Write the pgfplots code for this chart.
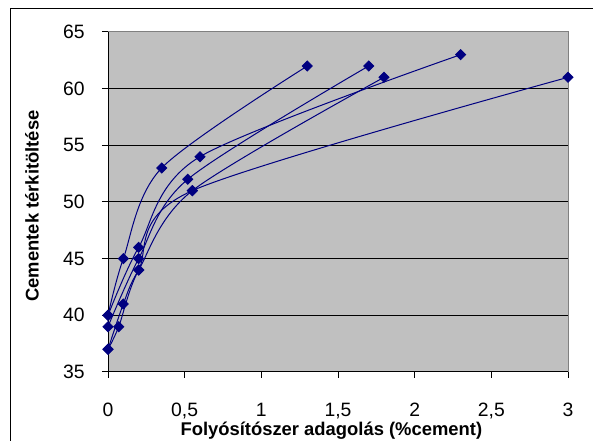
\documentclass[border=0pt]{standalone}
\usepackage{pgfplots}
\pgfplotsset{compat=1.18}
\usepackage{fontspec}
\setmainfont{Liberation Sans}
\definecolor{plotgray}{RGB}{192,192,192}
\definecolor{framegray}{RGB}{128,128,128}
\definecolor{navyline}{RGB}{0,0,128}
\tikzset{ser/.style={navyline, line width=0.75pt, smooth, tension=0.5, mark=square*, mark size=2.6pt, mark options={fill=navyline, draw=navyline, solid, rotate=45}}}
\begin{document}
\begin{tikzpicture}
\path[use as bounding box] (0pt,0pt) rectangle (444.75pt,330.75pt);
\draw[black, line width=0.75pt] (7.5pt,0pt) -- (7.5pt,324pt) -- (444.75pt,324pt);
\begin{axis}[
  at={(81pt,51.75pt)}, anchor=south west,
  scale only axis, width=345pt, height=255pt,
  xmin=0, xmax=3, ymin=35, ymax=65,
  xtick={0,0.5,1,1.5,2,2.5,3},
  ytick={35,40,45,50,55,60,65},
  axis background/.style={fill=plotgray},
  axis line style={framegray, line width=0.75pt},
  ymajorgrids, grid style={black, line width=0.75pt},
  tick align=outside, major tick length=4.5pt,
  xtick pos=bottom, ytick pos=left,
  tick style={black, line width=0.75pt},
  /pgf/number format/use comma,
  /pgf/number format/assume math mode=true,
  ticklabel style={font=\fontsize{14.5}{17}\selectfont},
  yticklabel style={anchor=east, inner sep=0pt, xshift=-12.75pt},
  xticklabel style={anchor=north, inner sep=0pt, yshift=-18.5pt},
  xlabel={Folyósítószer adagolás (\%cement)},
  ylabel={Cementek térkitöltése},
  xlabel style={font=\bfseries\fontsize{13.8}{16}\selectfont, at={(axis description cs:0.5,0)}, anchor=base, inner sep=0pt, yshift=-48pt, xshift=-5pt},
  ylabel style={font=\bfseries\fontsize{13.8}{16}\selectfont, at={(axis description cs:0,0.5)}, anchor=base, inner sep=0pt, yshift=52pt, xshift=-3pt},
  clip=false,
]
\addplot[ser] coordinates {(0,40) (0.1,45) (0.35,53) (1.3,62)};
\addplot[ser] coordinates {(0,40) (0.2,46) (0.6,54) (2.3,63)};
\addplot[ser] coordinates {(0,39) (0.2,45) (0.52,52) (1.7,62)};
\addplot[ser] coordinates {(0,37) (0.1,41) (0.2,44) (0.55,51) (1.8,61)};
\addplot[ser] coordinates {(0,37) (0.07,39) (0.2,44) (0.55,51) (3,61)};
\draw[black, line width=0.75pt] (axis cs:0,35) -- (axis cs:0,65);
\draw[black, line width=0.75pt] (axis cs:0,35) -- (axis cs:3,35);
\end{axis}
\end{tikzpicture}
\end{document}
